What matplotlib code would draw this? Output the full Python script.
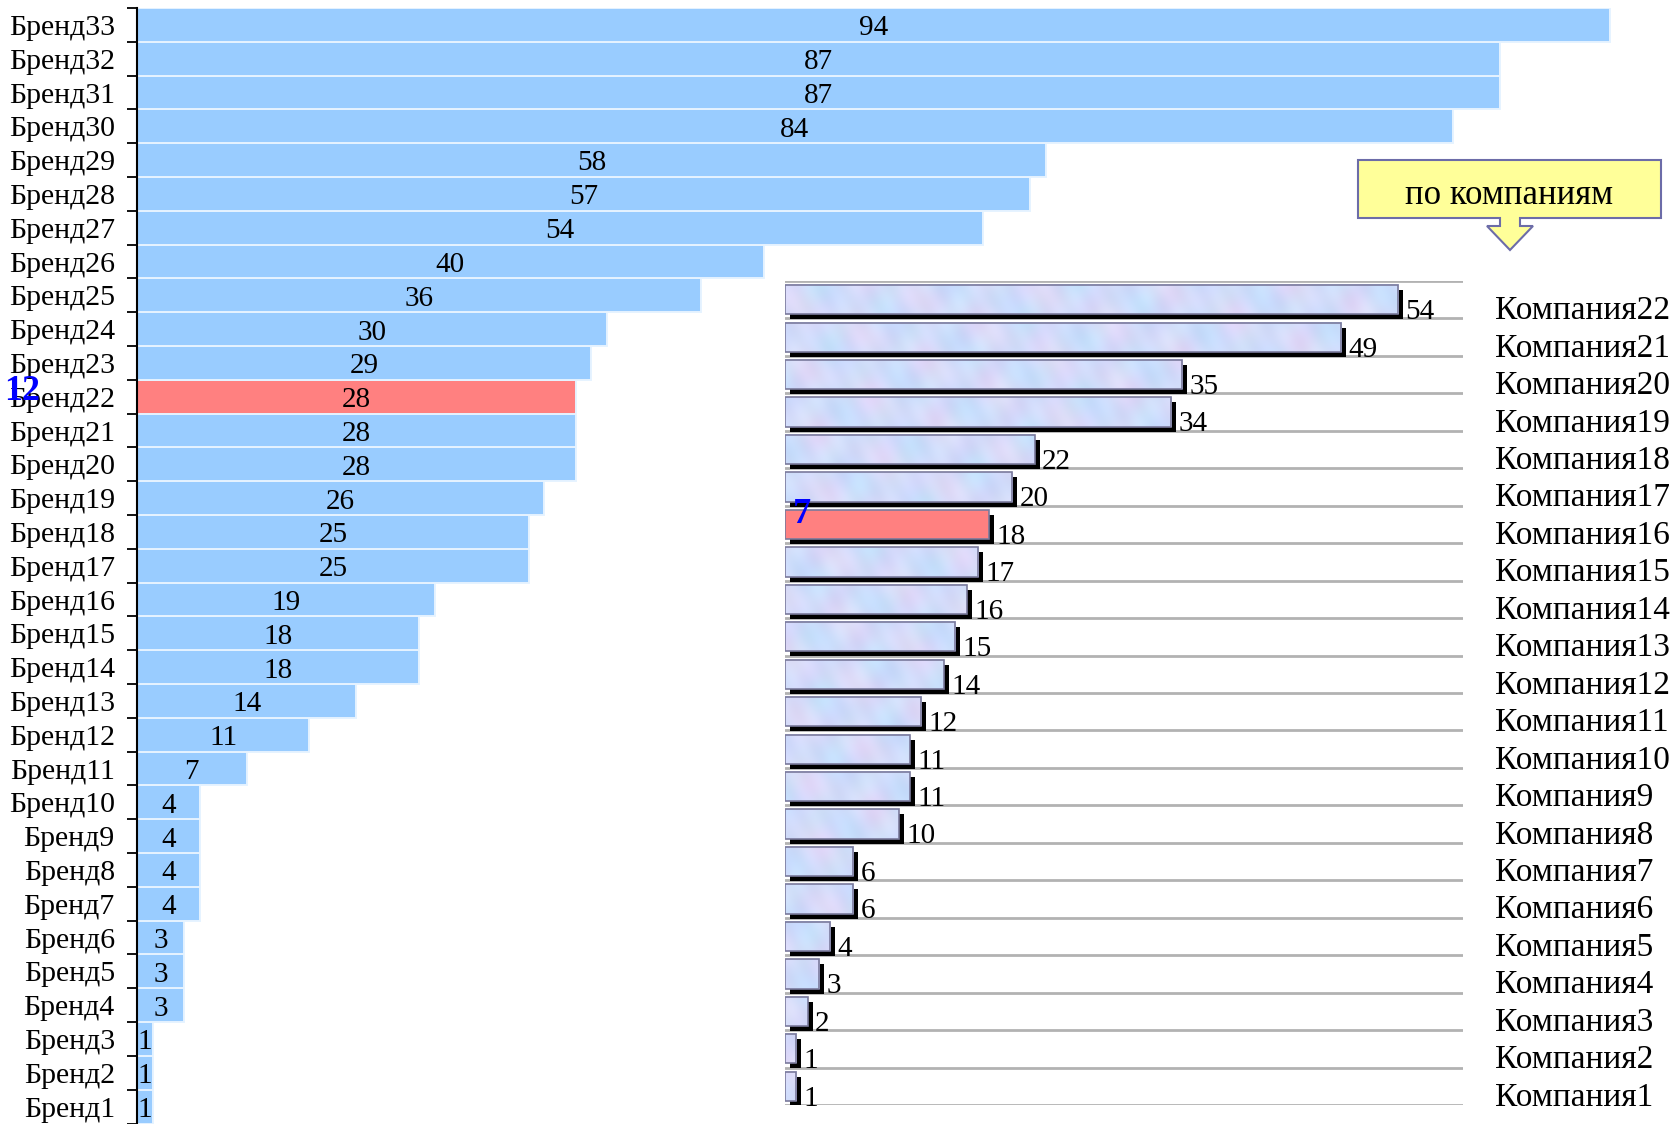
import numpy as np
import matplotlib
matplotlib.use("Agg")
import matplotlib.pyplot as plt
import matplotlib.patches as mpatches
import matplotlib.transforms as mtransforms

plt.rcParams['font.family'] = ['Liberation Serif', 'DejaVu Serif']

# brands, bottom to top
brand_names = [f"Бренд{i}" for i in range(1, 34)]
brand_values = [1, 1, 1, 3, 3, 3, 4, 4, 4, 4, 7, 11, 14, 18, 18, 19, 25, 25, 26,
                28, 28, 28, 29, 30, 36, 40, 54, 57, 58, 84, 87, 87, 94]
brand_hilite = "Бренд22"
brand_rank = "12"

# companies, bottom to top
company_names = [f"Компания{i}" for i in range(1, 23)]
company_values = [1, 1, 2, 3, 4, 6, 6, 10, 11, 11, 12, 14, 15, 16, 17, 18, 20, 22,
                  34, 35, 49, 54]
company_hilite = "Компания16"
company_rank = "7"

callout_text = "по компаниям"

W, H = 1677, 1124
fig = plt.figure(figsize=(W / 100, H / 100), dpi=100)


def fx(px):
    return px / W


def fy(py):
    return 1 - py / H


# ---- brands (left, full height) ----
ax1 = fig.add_axes([fx(137), fy(1123.5), fx(W - 137), fy(8) - fy(1123.5)])
yb = np.arange(len(brand_values))
bcolors = ['#FF8080' if n == brand_hilite else '#99CCFF' for n in brand_names]
ax1.barh(yb, brand_values, height=1.0, color=bcolors, edgecolor='#E6F3FF',
         linewidth=1.4, zorder=2)
for y, v in zip(yb, brand_values):
    ax1.text(v / 2, y - 0.1, str(v), ha='center', va='center', fontsize=21, zorder=3)
ax1.set_xlim(0, 98.3)
ax1.set_ylim(-0.5, len(brand_values) - 0.5)
ax1.set_yticks(yb)
ax1.set_yticklabels(brand_names, fontsize=21.5)
ax1.set_yticks(np.arange(-0.5, len(brand_values)), minor=True)
ax1.tick_params(axis='y', which='major', length=0, pad=16)
ax1.tick_params(axis='y', which='minor', length=7, width=1.3, direction='out')
ax1.xaxis.set_visible(False)
for s in ['top', 'right', 'bottom']:
    ax1.spines[s].set_visible(False)
ax1.spines['left'].set_linewidth(1.5)
ax1.patch.set_alpha(0)

bi = brand_names.index(brand_hilite)
ax1.text(fx(22), bi + 0.15, brand_rank, color='#0000FF', fontsize=26,
         fontweight='bold', ha='center', va='center', zorder=5,
         transform=mtransforms.blended_transform_factory(fig.transFigure, ax1.transData))

# ---- companies (right, inset) ----
ax2 = fig.add_axes([fx(785), fy(1105), fx(1463 - 785), fy(281) - fy(1105)])
ax2.patch.set_alpha(0)
ax2.axis('off')
yc = np.arange(len(company_values))
bh = 0.78
XMAX = 59.7

for b in np.arange(-0.5, len(company_values)):
    ax2.axhline(b, color='#B2B2B2', lw=2, zorder=1)

shadow = mtransforms.offset_copy(ax2.transData, fig, x=5, y=-5, units='dots')
ax2.barh(yc, company_values, height=bh, color='black', transform=shadow, zorder=2)


def pastel(x0, x1, y0, y1, nx, ny=12):
    # marbled pastel fill for the company bars
    xs = np.linspace(x0, x1, nx)
    ys = np.linspace(y0, y1, ny)
    X, Y = np.meshgrid(xs, ys)
    a = 0.5 + 0.5 * np.sin(0.83 * X + 2.3 * Y) * np.cos(0.31 * X - 1.7 * Y + 0.6)
    b = 0.5 + 0.5 * np.sin(1.37 * X - 3.1 * Y + 1.2) * np.sin(0.53 * X + 0.9 * Y)
    c = 0.5 + 0.5 * np.sin(2.1 * X + 0.7 * Y + 2.0) * np.cos(0.9 * X + 4.3 * Y)
    base = np.array([0.78, 0.85, 0.99])
    pink = np.array([0.94, 0.83, 0.96])
    cyan = np.array([0.76, 0.94, 0.99])
    img = base[None, None, :] * (1 - 0.6 * a[..., None] - 0.4 * b[..., None]) \
        + pink[None, None, :] * 0.6 * a[..., None] + cyan[None, None, :] * 0.4 * b[..., None]
    img = img + 0.03 * (c[..., None] - 0.5)
    return np.clip(img, 0, 1)


for y, v, n in zip(yc, company_values, company_names):
    if n == company_hilite:
        ax2.barh(y, v, height=bh, color='#FF8080', zorder=3)
    else:
        ax2.imshow(pastel(0, v, y - bh / 2, y + bh / 2, max(6, int(v * 6))),
                   extent=(0, v, y - bh / 2, y + bh / 2), aspect='auto',
                   interpolation='bicubic', origin='lower', zorder=3)
ax2.barh(yc, company_values, height=bh, fill=False, edgecolor='#7A7A9C',
         linewidth=1.2, zorder=4)

for y, v, n in zip(yc, company_values, company_names):
    ax2.text(v + 0.65, y - 0.33, str(v), ha='left', va='center', fontsize=21, zorder=5)
    ax2.text(62.5, y - 0.3, n, ha='left', va='center', fontsize=24, clip_on=False)

ci = company_names.index(company_hilite)
ax2.text(1.5, ci + 0.27, company_rank, color='#0000FF', fontsize=26,
         fontweight='bold', ha='center', va='center', zorder=6)

ax2.set_xlim(0, XMAX)
ax2.set_ylim(-0.5, len(company_values) - 0.5)

# ---- callout with down arrow ----
pts = [(1358, 160), (1661, 160), (1661, 218), (1520, 218), (1520, 226), (1533, 226),
       (1510, 250), (1487, 226), (1500, 226), (1500, 218), (1358, 218)]
fig.patches.append(mpatches.Polygon([(fx(x), fy(y)) for x, y in pts], closed=True,
                                    facecolor='#FFFF99', edgecolor='#6C6CA8', lw=1.5,
                                    transform=fig.transFigure))
fig.text(fx(1509), fy(196), callout_text, ha='center', va='center', fontsize=25)

fig.savefig("out.png", dpi=100)
